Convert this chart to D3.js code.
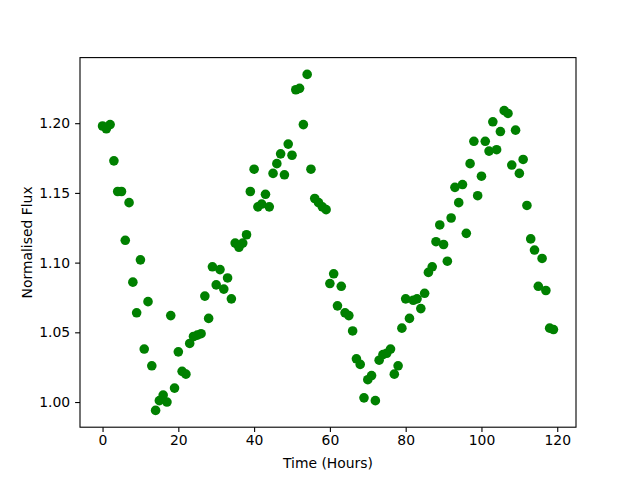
<!DOCTYPE html>
<html lang="en">
<head>
    <meta charset="UTF-8">
    <title>Normalised Flux vs Time</title>
    <script src="https://d3js.org/d3.v7.min.js"></script>
    <style>
        body { margin: 0; background: white; }
        svg text { font-family: "DejaVu Sans", sans-serif; font-size: 13.9px; fill: black; }
        .dot { fill: #008000; }
    </style>
</head>
<body>
<div id="chart"></div>
<script>
    // one reading per hour
    const hours = [
        0, 1, 2, 3, 4, 5, 6, 7, 8, 9, 10, 11, 12, 13, 14, 15, 16, 17, 18, 19,
        20, 21, 22, 23, 24, 25, 26, 27, 28, 29, 30, 31, 32, 33, 34, 35, 36, 37, 38, 39,
        40, 41, 42, 43, 44, 45, 46, 47, 48, 49, 50, 51, 52, 53, 54, 55, 56, 57, 58, 59,
        60, 61, 62, 63, 64, 65, 66, 67, 68, 69, 70, 71, 72, 73, 74, 75, 76, 77, 78, 79,
        80, 81, 82, 83, 84, 85, 86, 87, 88, 89, 90, 91, 92, 93, 94, 95, 96, 97, 98, 99,
        100, 101, 102, 103, 104, 105, 106, 107, 108, 109, 110, 111, 112, 113, 114, 115, 116, 117, 118, 119
    ];
    const flux = [
        1.198, 1.196, 1.199, 1.173, 1.151, 1.151, 1.116, 1.143, 1.086, 1.064,
        1.102, 1.038, 1.072, 1.026, 0.994, 1.001, 1.005, 1.000, 1.062, 1.010,
        1.036, 1.022, 1.020, 1.042, 1.047, 1.048, 1.049, 1.076, 1.060, 1.097,
        1.084, 1.095, 1.081, 1.089, 1.074, 1.114, 1.111, 1.114, 1.120, 1.151,
        1.167, 1.140, 1.142, 1.149, 1.140, 1.164, 1.171, 1.178, 1.163, 1.185,
        1.177, 1.224, 1.225, 1.199, 1.235, 1.167, 1.146, 1.143, 1.140, 1.138,
        1.085, 1.092, 1.069, 1.083, 1.064, 1.062, 1.051, 1.031, 1.027, 1.003,
        1.016, 1.019, 1.001, 1.030, 1.034, 1.035, 1.038, 1.020, 1.026, 1.053,
        1.074, 1.060, 1.073, 1.074, 1.067, 1.078, 1.093, 1.097, 1.115, 1.127,
        1.113, 1.101, 1.132, 1.154, 1.143, 1.156, 1.121, 1.171, 1.187, 1.148,
        1.162, 1.187, 1.180, 1.201, 1.181, 1.194, 1.209, 1.207, 1.170, 1.195,
        1.164, 1.174, 1.141, 1.117, 1.109, 1.083, 1.103, 1.080, 1.053, 1.052
    ];
    const xTicks = [0, 20, 40, 60, 80, 100, 120];
    const yTicks = [1.00, 1.05, 1.10, 1.15, 1.20];

    const W = 640, H = 480;
    const margin = { top: 57.6, right: 64, bottom: 52.8, left: 80 };
    const width = W - margin.left - margin.right;
    const height = H - margin.top - margin.bottom;

    const data = hours.map((h, i) => ({ h: h, f: flux[i] }));

    // matplotlib-style 5% padding around the data
    function padded(ext) {
        const p = (ext[1] - ext[0]) * 0.05;
        return [ext[0] - p, ext[1] + p];
    }

    const x = d3.scaleLinear().domain(padded(d3.extent(hours))).range([0, width]);
    const y = d3.scaleLinear().domain(padded(d3.extent(flux))).range([height, 0]);

    const svg = d3.select("#chart").append("svg")
        .attr("width", W)
        .attr("height", H)
      .append("g")
        .attr("transform", "translate(" + margin.left + "," + margin.top + ")");

    svg.append("g")
        .selectAll("circle")
        .data(data)
        .enter().append("circle")
        .attr("class", "dot")
        .attr("cx", d => x(d.h))
        .attr("cy", d => y(d.f))
        .attr("r", 4.8);

    const xAxis = svg.append("g")
        .attr("transform", "translate(0," + height + ")")
        .call(d3.axisBottom(x).tickValues(xTicks).tickSize(4.9).tickPadding(3.5).tickFormat(d3.format("d")));
    const yAxis = svg.append("g")
        .call(d3.axisLeft(y).tickValues(yTicks).tickSize(4.9).tickPadding(4.9).tickFormat(d3.format(".2f")));

    [xAxis, yAxis].forEach(a => {
        a.select(".domain").remove();
        a.selectAll(".tick line").attr("stroke", "black").attr("stroke-width", 1.1);
        a.selectAll(".tick text").attr("font-family", null).attr("font-size", null);
        a.attr("font-family", null).attr("font-size", null);
    });

    // frame
    svg.append("rect")
        .attr("width", width)
        .attr("height", height)
        .attr("fill", "none")
        .attr("stroke", "black")
        .attr("stroke-width", 1.1);

    svg.append("text")
        .attr("x", width / 2)
        .attr("y", height + 41)
        .attr("text-anchor", "middle")
        .text("Time (Hours)");

    svg.append("text")
        .attr("transform", "translate(-48," + (height / 2) + ") rotate(-90)")
        .attr("text-anchor", "middle")
        .text("Normalised Flux");
</script>
</body>
</html>
